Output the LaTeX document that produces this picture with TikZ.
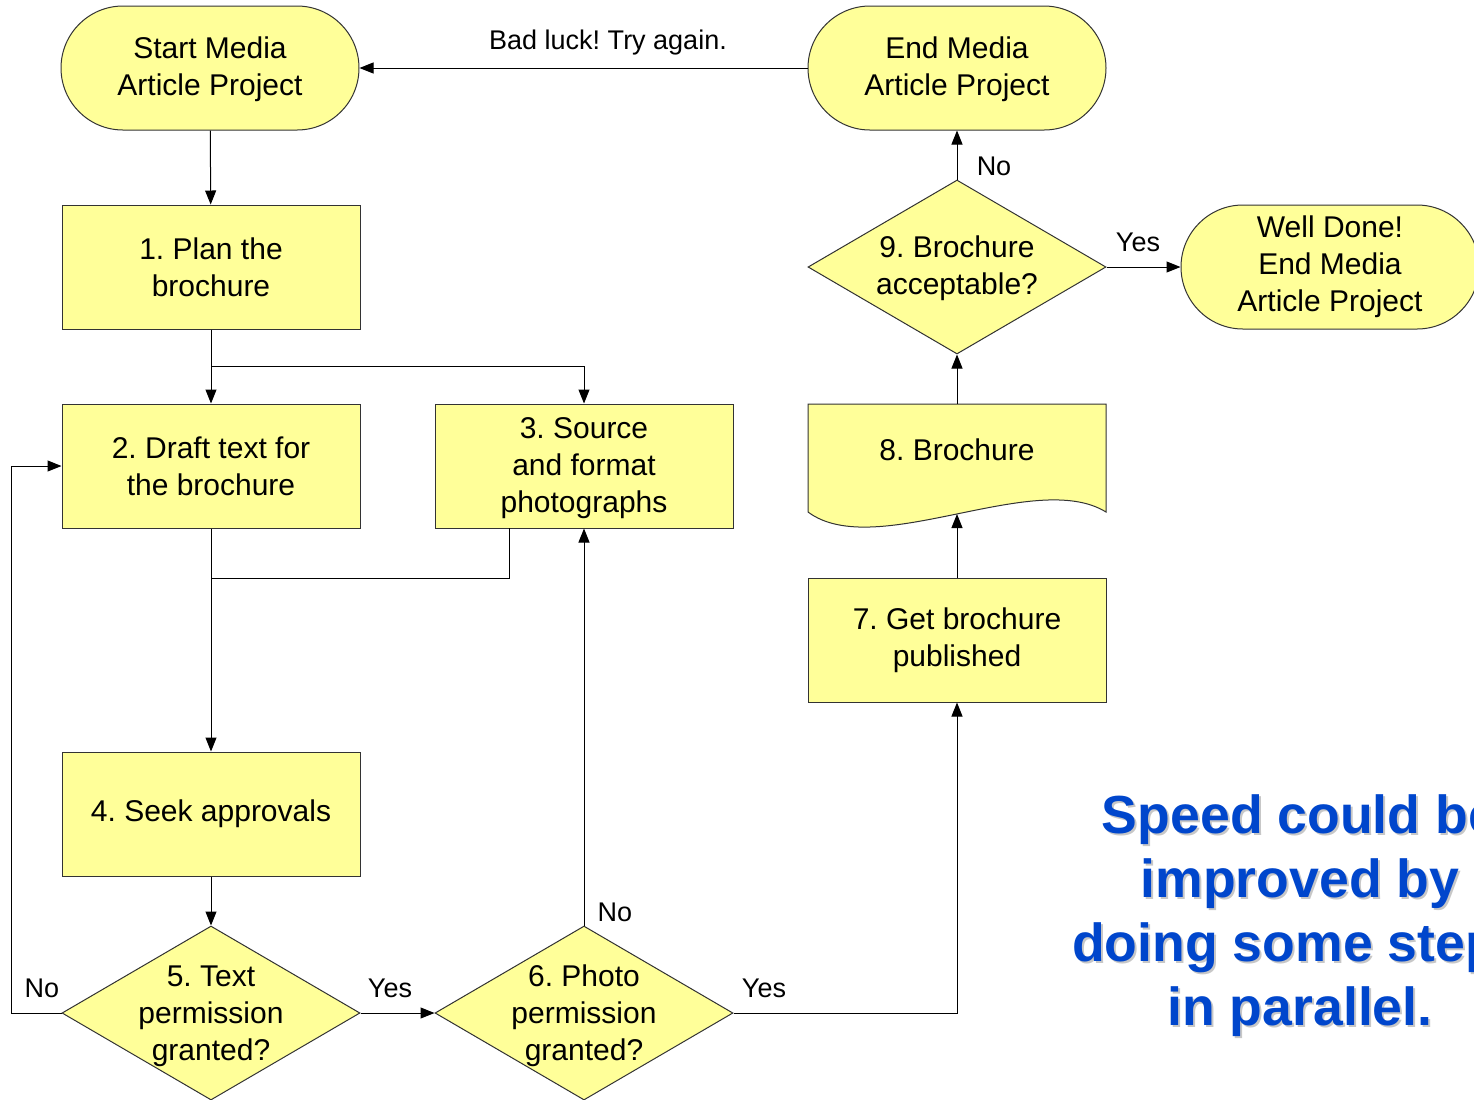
\documentclass[tikz,border=0pt]{standalone}
\usepackage{fontspec}
\setmainfont{Liberation Sans}
\usetikzlibrary{arrows.meta,shapes.geometric}
\definecolor{boxfill}{HTML}{FFFF99}
\definecolor{speedblue}{RGB}{0,70,204}
\frenchspacing

\begin{document}
\begin{tikzpicture}[x=0.5pt,y=-0.5pt,
  every node/.style={font=\fontsize{15}{18.5}\selectfont, align=center},
  proc/.style={draw=black!80, fill=boxfill, line width=0.5pt,
    minimum width=149pt, minimum height=62pt, inner sep=0pt},
  term/.style={proc, rounded corners=31pt},
  dec/.style={draw=black!80, fill=boxfill, line width=0.5pt, diamond,
    minimum width=149pt, minimum height=87pt, inner sep=0pt},
  flow/.style={line width=0.5pt, -{Triangle[length=7pt,width=5.5pt]}},
  plain/.style={line width=0.5pt},
  lbl/.style={font=\fontsize{13.5}{16}\selectfont},
  note/.style={font=\fontsize{26.8}{32}\selectfont\bfseries}]

\useasboundingbox (0,0) rectangle (1474,1099);
\clip (0,0) rectangle (1474,1099);

% terminators
\node[term] (start) at (210,68) {};
\node (startt) at (210,69) {Start Media\\Article Project};
\node[term] (endp)  at (957,68) {};
\node (endt) at (957,69) {End Media\\Article Project};
\node[term] (done)  at (1330,267) {Well Done!\\End Media\\Article Project};

% process steps
\node[proc] (b1) at (211,267) {1. Plan the\\brochure};
\node[proc] (b2) at (211,466) {2. Draft text for\\the brochure};
\node[proc] (b3) at (584,466) {};
\node (b3t) at (584,468) {3. Source\\and format\\photographs};
\node[proc] (b4) at (211,814) {4. Seek approvals};
\node[proc] (b7) at (957,640) {7. Get brochure\\published};

% document shape for the brochure
\draw[draw=black!80, fill=boxfill, line width=0.5pt]
  (808,404) -- (1106,404) -- (1106,512)
  .. controls (1035,468) and (875,562) .. (808,512) -- cycle;
\node (b8) at (957,450) {8. Brochure};
\coordinate (b8top) at (957,404);
\coordinate (b8bot) at (957,514);

% decisions
\node[dec] (d5) at (211,1013) {};
\node (d5t) at (211,1016) {5. Text\\permission\\granted?};
\node[dec] (d6) at (584,1013) {};
\node (d6t) at (584,1016) {6. Photo\\permission\\granted?};
\node[dec] (d9) at (957,267) {};
\node (d9t) at (957,268) {9. Brochure\\acceptable?};

% connectors
\draw[flow] (endp.west) -- (start.east);
\node[lbl] (badluck) at (608,43) {Bad luck! Try again.};

\draw[flow] (start) -- (b1);
\draw[flow] (b1) -- (b2);
\coordinate (split) at (211,366);
\draw[flow] (split) -| (b3.north);
\draw[flow] (b2) -- (b4);
\coordinate (b3out) at (509,528);
\coordinate (merge) at (211,578);
\draw[plain] (b3out) |- (merge);
\draw[flow] (b4) -- (d5.north);

\draw[flow] (d5.west) -- ++(-50,0) |- (b2.west);
\node[lbl] (no5) at (42,988) {No};
\draw[flow] (d5.east) -- (d6.west);
\node[lbl] (yes5) at (390,988) {Yes};

\draw[flow] (d6.north) -- (b3.south);
\node[lbl] (no6) at (615,912) {No};
\draw[flow] (d6.east) -| (b7.south);
\node[lbl] (yes6) at (764,988) {Yes};

\draw[flow] (b7.north) -- (b8bot);
\draw[flow] (b8top) -- (d9.south);
\draw[flow] (d9.north) -- (endp.south);
\node[lbl] (no9) at (994,166) {No};
\draw[flow] (d9.east) -- (done.west);
\node[lbl] (yes9) at (1138,242) {Yes};

% remark with a soft drop shadow
\node[note, text=black!22] (remarkshadow) at (1302,918)
  {Speed could be\\improved by\\doing some steps\\in parallel.};
\node[note, text=speedblue] (remark) at (1300,916)
  {Speed could be\\improved by\\doing some steps\\in parallel.};
\end{tikzpicture}
\end{document}
